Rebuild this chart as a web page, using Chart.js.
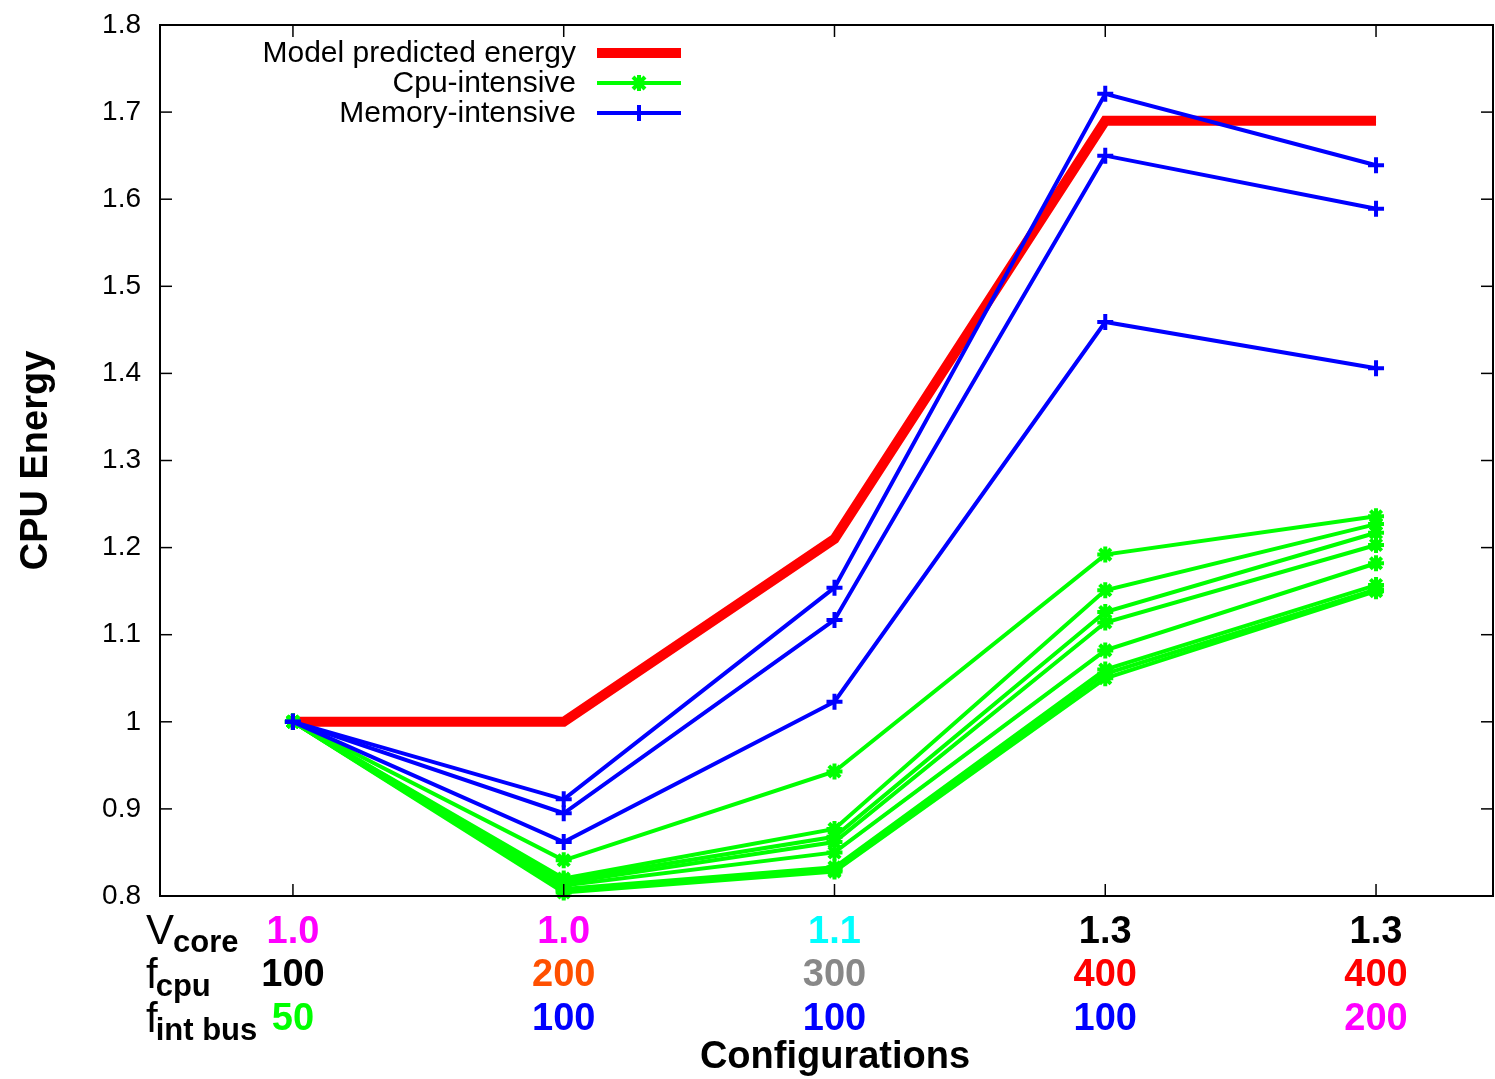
<!DOCTYPE html>
<html>
<head>
<meta charset="utf-8">
<script src="https://cdn.jsdelivr.net/npm/chart.js@4.4.0/dist/chart.umd.min.js"></script>
<style>body{margin:0;background:#fff}</style>
</head>
<body>
<canvas id="grafico" width="1495" height="1079"></canvas>
<script>
// configurations (x positions 1..5) and the three label rows under the axis
const configs = [1, 2, 3, 4, 5];
const vcoreLabels = ['1.0', '1.0', '1.1', '1.3', '1.3'];
const vcoreColors = ['#ff00ff', '#ff00ff', '#00ffff', '#000000', '#000000'];
const fcpuLabels = ['100', '200', '300', '400', '400'];
const fcpuColors = ['#000000', '#ff5000', '#888888', '#ff0000', '#ff0000'];
const fbusLabels = ['50', '100', '100', '100', '200'];
const fbusColors = ['#00ff00', '#0000ff', '#0000ff', '#0000ff', '#ff00ff'];
const yTicks = [0.8, 0.9, 1.0, 1.1, 1.2, 1.3, 1.4, 1.5, 1.6, 1.7, 1.8];

// series
const modelEnergy = [1.0, 1.0, 1.21, 1.69, 1.69];
const memA = [1.0, 0.911, 1.154, 1.721, 1.639];
const memB = [1.0, 0.895, 1.117, 1.650, 1.589];
const memC = [1.0, 0.862, 1.023, 1.459, 1.406];
const cpuA = [1.0, 0.841, 0.943, 1.192, 1.236];
const cpuB = [1.0, 0.820, 0.877, 1.151, 1.227];
const cpuC = [1.0, 0.818, 0.868, 1.126, 1.217];
const cpuD = [1.0, 0.815, 0.862, 1.114, 1.203];
const cpuE = [1.0, 0.812, 0.850, 1.082, 1.182];
const cpuF = [1.0, 0.808, 0.833, 1.060, 1.157];
const cpuG = [1.0, 0.806, 0.830, 1.055, 1.152];
const cpuH = [1.0, 0.804, 0.828, 1.050, 1.150];

const FONT = '"Liberation Sans", Arial, sans-serif';

function pts(arr) {
  return arr.map((v, i) => ({ x: configs[i], y: v }));
}

function serie(arr, cor, estilo, largura, ordem) {
  return {
    data: pts(arr),
    borderColor: cor,
    backgroundColor: cor,
    borderWidth: largura,
    pointStyle: estilo,
    pointRadius: estilo ? 8 : 0,
    pointBorderWidth: 4,
    pointBorderColor: cor,
    tension: 0,
    clip: false,
    order: ordem
  };
}

const datasets = [serie(modelEnergy, '#ff0000', false, 10, 3)];
[cpuA, cpuB, cpuC, cpuD, cpuE, cpuF, cpuG, cpuH].forEach(s => datasets.push(serie(s, '#00ff00', 'star', 4, 2)));
[memA, memB, memC].forEach(s => datasets.push(serie(s, '#0000ff', 'cross', 4, 1)));

function linha(ctx, x1, y1, x2, y2) {
  ctx.beginPath(); ctx.moveTo(x1, y1); ctx.lineTo(x2, y2); ctx.stroke();
}

// frame, inward ticks, legend and the bottom label rows (gnuplot look)
const molduraPlugin = {
  id: 'moldura',
  afterDraw(chart) {
    const ctx = chart.ctx;
    const a = chart.chartArea;
    const xs = chart.scales.x, ys = chart.scales.y;
    ctx.save();
    ctx.strokeStyle = '#000';
    ctx.lineWidth = 2;
    ctx.strokeRect(a.left, a.top, a.right - a.left, a.bottom - a.top);
    ctx.lineWidth = 1.5;
    yTicks.forEach(v => {
      const py = ys.getPixelForValue(v);
      linha(ctx, a.left, py, a.left + 12, py);
      linha(ctx, a.right, py, a.right - 12, py);
    });
    configs.forEach(c => {
      const px = xs.getPixelForValue(c);
      linha(ctx, px, a.bottom, px, a.bottom - 12);
      linha(ctx, px, a.top, px, a.top + 12);
    });

    // y title
    ctx.save();
    ctx.translate(37, (a.top + a.bottom) / 2);
    ctx.rotate(-Math.PI / 2);
    ctx.font = 'bold 38px ' + FONT;
    ctx.fillStyle = '#000';
    ctx.textAlign = 'center';
    ctx.textBaseline = 'middle';
    ctx.fillText('CPU Energy', 0, 0);
    ctx.restore();

    // legend
    const leg = [
      ['Model predicted energy', '#ff0000', 10, null],
      ['Cpu-intensive', '#00ff00', 4, 'star'],
      ['Memory-intensive', '#0000ff', 4, 'cross']
    ];
    ctx.font = '30px ' + FONT;
    ctx.textAlign = 'right';
    ctx.textBaseline = 'middle';
    leg.forEach((l, i) => {
      const ly = 53 + i * 30;
      ctx.fillStyle = '#000';
      ctx.fillText(l[0], 576, ly + 1);
      ctx.strokeStyle = l[1];
      ctx.lineWidth = l[2];
      linha(ctx, 597, ly, 681, ly);
      if (l[3]) {
        ctx.lineWidth = 4;
        linha(ctx, 631, ly, 647, ly);
        linha(ctx, 639, ly - 8, 639, ly + 8);
        if (l[3] === 'star') {
          linha(ctx, 633, ly - 6, 645, ly + 6);
          linha(ctx, 633, ly + 6, 645, ly - 6);
        }
      }
    });

    // bottom rows
    const linhas = [
      [vcoreLabels, vcoreColors, 931],
      [fcpuLabels, fcpuColors, 974],
      [fbusLabels, fbusColors, 1018]
    ];
    ctx.font = 'bold 38px ' + FONT;
    ctx.textAlign = 'center';
    ctx.textBaseline = 'middle';
    linhas.forEach(r => {
      configs.forEach((c, i) => {
        ctx.fillStyle = r[1][i];
        ctx.fillText(r[0][i], xs.getPixelForValue(c), r[2] + 2);
      });
    });

    // row names with subscripts
    ctx.fillStyle = '#000';
    ctx.textAlign = 'left';
    ctx.textBaseline = 'alphabetic';
    const nomes = [['V', 'core', 944, 952], ['f', 'cpu', 988, 996], ['f', 'int bus', 1032, 1040]];
    nomes.forEach(n => {
      ctx.font = '42px ' + FONT;
      ctx.fillText(n[0], 146, n[2]);
      const w = ctx.measureText(n[0]).width;
      ctx.font = 'bold 31px ' + FONT;
      ctx.fillText(n[1], 146 + w - (n[0] === 'V' ? 1 : 2), n[3]);
    });

    // x title
    ctx.font = 'bold 38px ' + FONT;
    ctx.textAlign = 'center';
    ctx.textBaseline = 'middle';
    ctx.fillText('Configurations', 835, 1058);
    ctx.restore();
  }
};

new Chart(document.getElementById('grafico').getContext('2d'), {
  type: 'line',
  data: { datasets: datasets },
  options: {
    responsive: false,
    animation: false,
    layout: { autoPadding: false, padding: { top: 25, right: 2, bottom: 183, left: 0 } },
    plugins: { legend: { display: false }, tooltip: { enabled: false } },
    scales: {
      x: { type: 'linear', min: 0.509, max: 5.432, display: false },
      y: {
        min: 0.8,
        max: 1.8,
        afterFit: s => { s.width = 160; s.paddingTop = 0; s.paddingBottom = 0; },
        afterBuildTicks: s => { s.ticks = yTicks.map(v => ({ value: v })); },
        grid: { display: false, drawTicks: false },
        border: { display: false },
        ticks: {
          padding: 19,
          color: '#000',
          font: { family: FONT, size: 28 },
          callback: v => String(Number(v.toFixed(1)))
        }
      }
    }
  },
  plugins: [molduraPlugin]
});
</script>
</body>
</html>
